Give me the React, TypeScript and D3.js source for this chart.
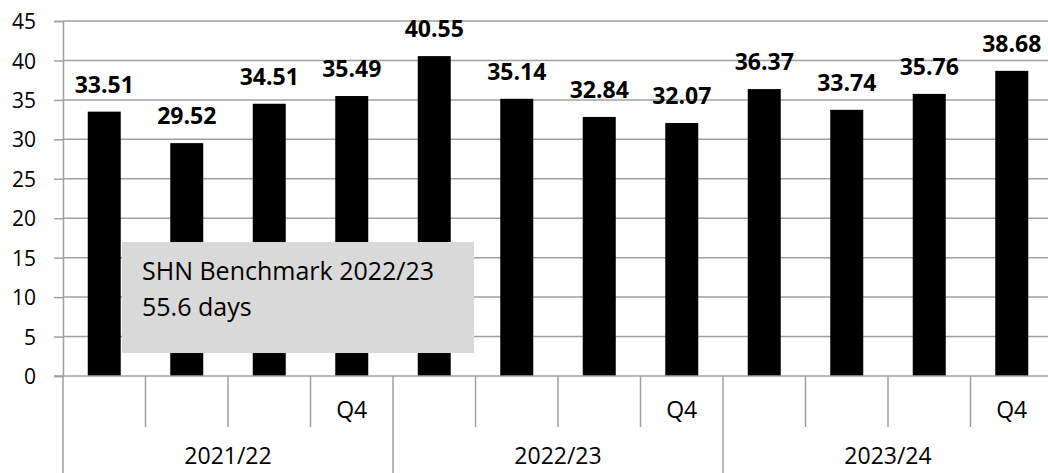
import * as d3 from "d3";
import { useEffect, useRef } from "react";

// quarterly values, three financial years
const years = ["2021/22", "2022/23", "2023/24"];
const quarterLabels = ["", "", "", "Q4"];
const values = [
  33.51, 29.52, 34.51, 35.49, 40.55, 35.14, 32.84, 32.07, 36.37, 33.74, 35.76,
  38.68,
];
const yTicks = [0, 5, 10, 15, 20, 25, 30, 35, 40, 45];
const benchmarkLines = ["SHN Benchmark 2022/23", "55.6 days"];

export default function App() {
  const svgRef = useRef(null);
  const width = 1048;
  const height = 473;
  const left = 63;
  const plotRight = 1053;
  const top = 21;
  const bottom = 376;
  const font = "'Open Sans', 'DejaVu Sans', sans-serif";
  const grey = "#a0a0a0";

  useEffect(() => {
    const svg = d3.select(svgRef.current);
    svg.selectAll("*").remove();

    const idx = values.map((_, i) => i);
    const x = d3
      .scaleBand<number>()
      .domain(idx)
      .range([left, plotRight])
      .paddingInner(0.6)
      .paddingOuter(0.3);
    const y = d3.scaleLinear().domain([0, 45]).range([bottom, top]);
    const step = x.step();
    const edge = (i: number) => (x(i) || 0) - (step - x.bandwidth()) / 2;

    // horizontal gridlines
    svg
      .append("g")
      .selectAll("line")
      .data(yTicks.filter((t) => t > 0))
      .enter()
      .append("line")
      .attr("x1", left)
      .attr("x2", width)
      .attr("y1", (d) => y(d))
      .attr("y2", (d) => y(d))
      .attr("stroke", grey)
      .attr("stroke-width", 1.5);

    // y axis
    const yAxis = svg
      .append("g")
      .attr("transform", `translate(${left},0)`)
      .call(d3.axisLeft(y).tickValues(yTicks).tickSize(9).tickPadding(18));
    yAxis.select(".domain").attr("stroke", grey).attr("stroke-width", 1.5);
    yAxis.selectAll(".tick line").attr("stroke", grey).attr("stroke-width", 1.5);
    yAxis
      .selectAll(".tick text")
      .attr("font-family", font)
      .attr("font-size", 21)
      .attr("fill", "#000")
      .attr("dy", "0.36em");

    // bars
    svg
      .append("g")
      .selectAll("rect")
      .data(values)
      .enter()
      .append("rect")
      .attr("x", (_, i) => x(i) || 0)
      .attr("y", (d) => y(d))
      .attr("width", x.bandwidth())
      .attr("height", (d) => bottom - y(d))
      .attr("fill", "#000");

    // value labels
    svg
      .append("g")
      .selectAll("text")
      .data(values)
      .enter()
      .append("text")
      .attr("x", (_, i) => (x(i) || 0) + x.bandwidth() / 2)
      .attr("y", (d) => y(d) - 19)
      .attr("text-anchor", "middle")
      .attr("font-family", font)
      .attr("font-weight", "bold")
      .attr("font-size", 23)
      .text((d) => d.toFixed(2));

    // category axis
    const cat = svg.append("g");
    cat
      .append("line")
      .attr("x1", left - 9)
      .attr("x2", width)
      .attr("y1", bottom)
      .attr("y2", bottom)
      .attr("stroke", grey)
      .attr("stroke-width", 1.5);
    idx.concat([values.length]).forEach((i) => {
      const xx = i < values.length ? edge(i) : plotRight;
      const outer = i % quarterLabels.length === 0;
      cat
        .append("line")
        .attr("x1", xx)
        .attr("x2", xx)
        .attr("y1", bottom)
        .attr("y2", outer ? height : 427)
        .attr("stroke", grey)
        .attr("stroke-width", 1.5);
    });
    cat
      .selectAll("text.q")
      .data(values)
      .enter()
      .append("text")
      .attr("class", "q")
      .attr("x", (_, i) => (x(i) || 0) + x.bandwidth() / 2)
      .attr("y", 418)
      .attr("text-anchor", "middle")
      .attr("font-family", font)
      .attr("font-size", 23)
      .text((_, i) => quarterLabels[i % quarterLabels.length]);
    cat
      .selectAll("text.yr")
      .data(years)
      .enter()
      .append("text")
      .attr("class", "yr")
      .attr("x", (_, j) => {
        const a = edge(j * quarterLabels.length);
        const b = j * quarterLabels.length + quarterLabels.length;
        const e = b < values.length ? edge(b) : plotRight;
        return (a + e) / 2;
      })
      .attr("y", 464)
      .attr("text-anchor", "middle")
      .attr("font-family", font)
      .attr("font-size", 23)
      .text((d) => d);

    // benchmark note box
    const note = svg.append("g");
    note
      .append("rect")
      .attr("x", 122)
      .attr("y", 242)
      .attr("width", 352)
      .attr("height", 111)
      .attr("fill", "#d9d9d9");
    note
      .selectAll("text")
      .data(benchmarkLines)
      .enter()
      .append("text")
      .attr("x", 142)
      .attr("y", (_, i) => 280 + i * 36)
      .attr("font-family", font)
      .attr("font-size", 25)
      .text((d) => d);
  }, []);

  return (
    <svg
      ref={svgRef}
      width={width}
      height={height}
      style={{ position: "absolute", left: 0, top: 0, background: "#fff" }}
    ></svg>
  );
}
